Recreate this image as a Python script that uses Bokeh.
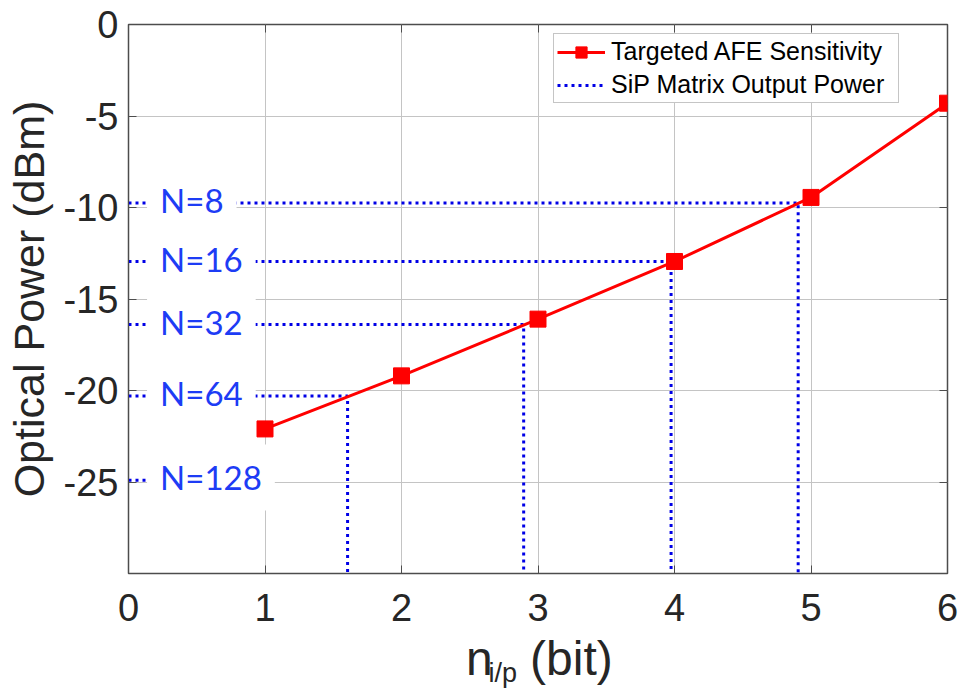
from bokeh.plotting import figure
from bokeh.models import Range1d, FixedTicker, LinearAxis, Label, Legend, LegendItem
from bokeh.embed import file_html
from bokeh.resources import INLINE

# ---- data ----
bits = [1, 2, 3, 4, 5, 6]
afe_sensitivity = [-22.1, -19.2, -16.1, -12.95, -9.45, -4.3]

matrix_labels = ["N=8", "N=16", "N=32", "N=64", "N=128"]
matrix_power = [-9.75, -12.95, -16.4, -20.3, -24.9]
matrix_cross_bits = [4.906, 3.975, 2.895, 1.605, 0.5]
matrix_has_drop = [True, True, True, True, False]

x_ticks = [0, 1, 2, 3, 4, 5, 6]
y_ticks = [0, -5, -10, -15, -20, -25]

# x-axis title pieces: text and where along the x axis it is centred
xlabel_main = {2.571: "n", 3.245: "(bit)"}
xlabel_sub = {2.742: "i/p"}

X_MIN, X_MAX = 0, 6
Y_MIN, Y_MAX = -30, 0

AXIS_COLOR = "#4d4d4d"
TXT = "#262626"
FONT = "Liberation Sans"

p = figure(width=959, height=700, output_backend="svg", toolbar_location=None,
           x_range=Range1d(X_MIN, X_MAX), y_range=Range1d(Y_MIN, Y_MAX),
           min_border_left=128, min_border_right=12, min_border_top=24, min_border_bottom=127,
           background_fill_color="white", border_fill_color="white")

p.outline_line_color = AXIS_COLOR
p.outline_line_width = 1.5

p.xaxis.ticker = FixedTicker(ticks=x_ticks)
p.yaxis.ticker = FixedTicker(ticks=y_ticks)
p.yaxis.major_label_overrides = {t: str(t) for t in y_ticks}
p.xgrid.ticker = FixedTicker(ticks=x_ticks)
p.ygrid.ticker = FixedTicker(ticks=y_ticks)
p.grid.grid_line_color = "#c4c4c4"
p.grid.grid_line_width = 1

for ax in (p.xaxis[0], p.yaxis[0]):
    ax.axis_line_color = AXIS_COLOR
    ax.major_tick_line_color = AXIS_COLOR
    ax.major_tick_in = 8
    ax.major_tick_out = 0
    ax.minor_tick_line_color = None
    ax.major_label_text_font = FONT
    ax.major_label_text_font_size = "38px"
    ax.major_label_text_color = TXT

p.xaxis.major_label_standoff = 20
p.yaxis.major_label_standoff = 10
p.yaxis.axis_label = "Optical Power (dBm)"
p.yaxis.axis_label_text_font = FONT
p.yaxis.axis_label_text_font_size = "43px"
p.yaxis.axis_label_text_font_style = "normal"
p.yaxis.axis_label_text_color = TXT
p.yaxis.axis_label_standoff = 8

# inward ticks on the right and top edges (box)
for loc, tk in (("right", y_ticks), ("above", x_ticks)):
    ax = LinearAxis(ticker=FixedTicker(ticks=tk))
    ax.axis_line_color = None
    ax.major_tick_line_color = AXIS_COLOR
    ax.major_tick_in = 8
    ax.major_tick_out = 0
    ax.minor_tick_line_color = None
    ax.major_label_text_font_size = "1px"
    ax.major_label_text_color = None
    ax.major_label_standoff = 0
    p.add_layout(ax, loc)

# x-axis title  n_{i/p} (bit)  built from two text-only axes below
def text_axis(labels, size, standoff):
    ax = LinearAxis(ticker=FixedTicker(ticks=list(labels.keys())))
    ax.major_label_overrides = labels
    ax.axis_line_color = None
    ax.major_tick_line_color = None
    ax.minor_tick_line_color = None
    ax.major_tick_out = 0
    ax.major_tick_in = 0
    ax.major_label_standoff = standoff
    ax.major_label_text_font = FONT
    ax.major_label_text_font_size = size
    ax.major_label_text_color = TXT
    p.add_layout(ax, "below")

text_axis(xlabel_main, "48px", 8)
text_axis(xlabel_sub, "27px", -30)

# dotted SiP matrix output power lines
xs, ys = [], []
for lvl, cx, drop in zip(matrix_power, matrix_cross_bits, matrix_has_drop):
    if drop:
        xs.append([X_MIN, cx, cx])
        ys.append([lvl, lvl, Y_MIN])
    else:
        xs.append([X_MIN, cx])
        ys.append([lvl, lvl])
dots = p.multi_line(xs, ys, line_color="#0000e6", line_width=3, line_dash="3 4")

# targeted AFE sensitivity
ln = p.line(bits, afe_sensitivity, line_color="#ff0000", line_width=3)
sq = p.scatter(bits, afe_sensitivity, marker="square", size=16,
               fill_color="#ff0000", line_color="#ff0000")

# N= labels
for lab, lvl in zip(matrix_labels, matrix_power):
    p.add_layout(Label(x=0.136, y=lvl + 0.15, text=lab, text_font="Lato",
                       text_font_size="33px", text_color="#1d3cf5",
                       text_baseline="middle", text_align="left",
                       background_fill_color="white", background_fill_alpha=1.0,
                       padding=13))

legend = Legend(items=[LegendItem(label="Targeted AFE Sensitivity", renderers=[ln, sq]),
                       LegendItem(label="SiP Matrix Output Power", renderers=[dots])],
                location=(425, 470))
legend.label_text_font = FONT
legend.label_text_font_size = "25px"
legend.label_text_color = "#000000"
legend.glyph_width = 48
legend.glyph_height = 28
legend.label_height = 28
legend.label_width = 284
legend.label_standoff = 6
legend.spacing = 4
legend.padding = 3
legend.margin = 0
legend.border_line_color = "#8c8c8c"
legend.border_line_width = 1
legend.background_fill_alpha = 1.0
p.add_layout(legend, "center")

open("out.html", "w").write(file_html(p, INLINE))
